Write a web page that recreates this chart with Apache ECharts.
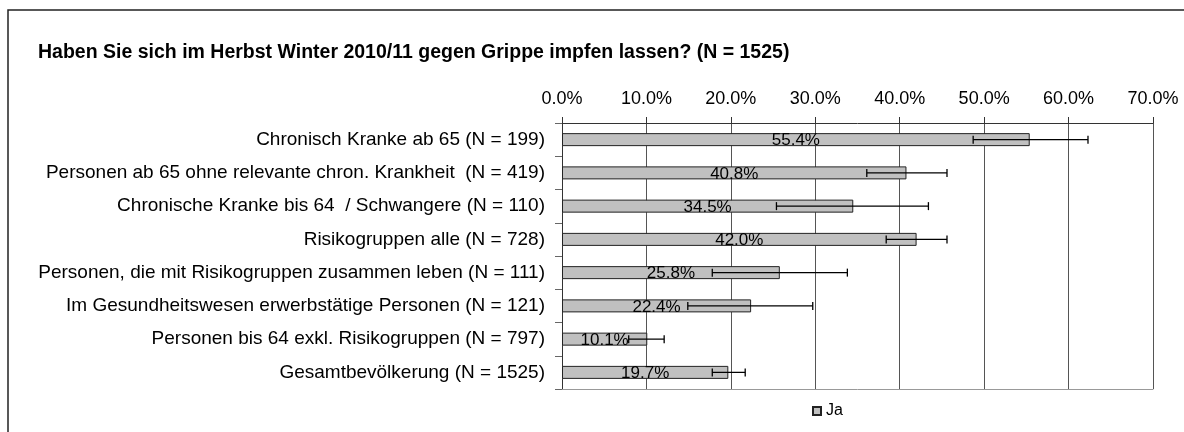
<!DOCTYPE html>
<html><head><meta charset="utf-8">
<script src="https://cdn.jsdelivr.net/npm/echarts@6/dist/echarts.min.js"></script>
<style>html,body{margin:0;padding:0;background:#fff}#c{width:1184px;height:432px}</style>
</head><body><div id="c"></div>
<script>
const titleText = 'Haben Sie sich im Herbst Winter 2010/11 gegen Grippe impfen lassen? (N = 1525)';
const categories = [
  'Chronisch Kranke ab 65 (N = 199)',
  'Personen ab 65 ohne relevante chron. Krankheit  (N = 419)',
  'Chronische Kranke bis 64  / Schwangere (N = 110)',
  'Risikogruppen alle (N = 728)',
  'Personen, die mit Risikogruppen zusammen leben (N = 111)',
  'Im Gesundheitswesen erwerbstätige Personen (N = 121)',
  'Personen bis 64 exkl. Risikogruppen (N = 797)',
  'Gesamtbevölkerung (N = 1525)'
];
const seriesName = 'Ja';
const values = [55.4, 40.8, 34.5, 42.0, 25.8, 22.4, 10.1, 19.7];
const errLow  = [48.7, 36.1, 25.4, 38.4, 17.8, 14.9, 7.9, 17.8];
const errHigh = [62.3, 45.6, 43.4, 45.6, 33.8, 29.7, 12.1, 21.7];
const xTicks = [0, 10, 20, 30, 40, 50, 60, 70];

const font = 'Liberation Sans, Arial, sans-serif';
const chart = echarts.init(document.getElementById('c'), null, {renderer: 'canvas'});
chart.setOption({
  animation: false,
  backgroundColor: '#fff',
  textStyle: {fontFamily: font},
  title: {
    text: titleText, left: 33, top: 38,
    textStyle: {fontFamily: font, fontSize: 19.5, fontWeight: 'bold', color: '#000'}
  },
  graphic: [{
    type: 'rect', shape: {x: 8, y: 10, width: 1200, height: 500},
    style: {fill: 'none', stroke: '#222', lineWidth: 1.5}, silent: true, z: -1
  }],
  legend: {
    data: [seriesName], left: 807, top: 398, itemWidth: 8, itemHeight: 8,
    icon: 'rect', itemGap: 4,
    textStyle: {fontFamily: font, fontSize: 16, color: '#000'}
  },
  grid: {left: 562, right: 31, top: 123, bottom: 43},
  xAxis: [{
    type: 'value', position: 'top', min: xTicks[0], max: xTicks[xTicks.length - 1], interval: 10,
    axisLine: {show: true, lineStyle: {color: '#333', width: 1}},
    axisTick: {show: true, length: 6, lineStyle: {color: '#333'}},
    axisLabel: {fontFamily: font, fontSize: 18, color: '#000', margin: 15,
      formatter: v => v.toFixed(1) + '%'},
    splitLine: {show: true, lineStyle: {color: '#555', width: 1}}
  }, {
    type: 'value', position: 'bottom', min: 0, max: 70, interval: 10,
    axisLine: {show: true, lineStyle: {color: '#999', width: 1}},
    axisTick: {show: false}, axisLabel: {show: false}, splitLine: {show: false}
  }],
  yAxis: {
    type: 'category', data: categories, inverse: true,
    axisLine: {show: true, lineStyle: {color: '#333'}},
    axisTick: {show: true, length: 7, lineStyle: {color: '#666'}},
    axisLabel: {fontFamily: font, fontSize: 19, color: '#000', margin: 17}
  },
  series: [{
    name: seriesName, type: 'bar', data: values, barWidth: 13,
    itemStyle: {color: '#c0c0c0', borderColor: '#222', borderWidth: 1},
    label: {show: true, position: 'inside', color: '#000', fontFamily: font, fontSize: 17,
      offset: [0, 1], formatter: p => p.value.toFixed(1) + '%'},
    z: 2
  }, {
    name: 'err', type: 'custom',
    data: categories.map((c, i) => [i, errLow[i], errHigh[i]]),
    encode: {x: [1, 2], y: 0},
    renderItem: (params, api) => {
      const i = api.value(0);
      const a = api.coord([api.value(1), i]);
      const b = api.coord([api.value(2), i]);
      const h = 4;
      const st = {stroke: '#000', lineWidth: 1.3};
      return {type: 'group', children: [
        {type: 'line', shape: {x1: a[0], y1: a[1], x2: b[0], y2: b[1]}, style: st},
        {type: 'line', shape: {x1: a[0], y1: a[1] - h, x2: a[0], y2: a[1] + h}, style: st},
        {type: 'line', shape: {x1: b[0], y1: b[1] - h, x2: b[0], y2: b[1] + h}, style: st}
      ]};
    },
    z: 3
  }]
});
</script></body></html>
